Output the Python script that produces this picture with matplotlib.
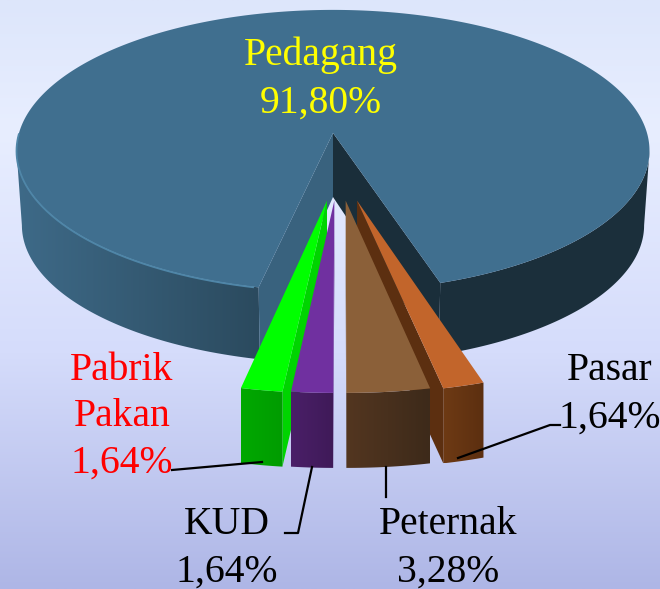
import numpy as np
import matplotlib
matplotlib.use("Agg")
import matplotlib.pyplot as plt
from matplotlib.colors import LinearSegmentedColormap
from matplotlib.patches import Polygon

# nilai
categories = ["Pabrik\nPakan", "KUD", "Peternak", "Pasar", "Pedagang"]
values = [1.64, 1.64, 3.28, 1.64, 91.80]
value_labels = ["1,64%", "1,64%", "3,28%", "1,64%", "91,80%"]

# warna: atas, dinding samping, sisi depan (kiri ke kanan)
top_colors = ["#00ff00", "#7030a0", "#8b6039", "#c2652b"]
wall_colors = ["#00d400", "#5c2a85", "#6b4a2c", "#5c2f10"]
front_colors = [("#00a800", "#009c00"), ("#4a1f68", "#3f1a58"), ("#533620", "#3d2a1a"), ("#6e3a14", "#5c2f10")]
# geser tiap irisan keluar dari pusat
offset_u = [-0.018, 0.004, 0.038, 0.072]
offset_v = 0.46
SLICE_LEN = 1.06

cx, cy = 333.0, 133.0
R, S, P = 314.0, 138.5, 0.125
DEPTH = 75.0


def project(u, v):
    d = 1 - P * np.asarray(v)
    return cx + R * np.asarray(u) / d, cy + S * np.asarray(v) / d


def rim(a0, a1, du=0.0, dv=0.0, length=1.0, n=120):
    a = np.radians(np.linspace(a0, a1, n))
    return project(length * np.sin(a) + du, length * np.cos(a) + dv)


def grad_fill(ax, xs, ys, c0, c1, z):
    # gradasi mendatar yang dipotong mengikuti poligon
    cmap = LinearSegmentedColormap.from_list("g", [c0, c1])
    im = ax.imshow(np.linspace(0, 1, 256).reshape(1, -1), cmap=cmap, aspect="auto", zorder=z,
                   extent=[min(xs), max(xs), max(ys), min(ys)], interpolation="bilinear")
    patch = Polygon(np.c_[xs, ys], closed=True, transform=ax.transData, fc="none", ec="none")
    ax.add_patch(patch)
    im.set_clip_path(patch)


fig = plt.figure(figsize=(6.6, 5.89), dpi=100)
ax = fig.add_axes([0, 0, 1, 1])
ax.axis("off")

# latar gradasi
bg = LinearSegmentedColormap.from_list("bg", [(0, "#dde6fb"), (0.22, "#e8eeff"), (0.6, "#d5dcfb"), (1, "#aeb6e6")])
ax.imshow(np.linspace(0, 1, 256).reshape(-1, 1), cmap=bg, extent=[0, 660, 589, 0], aspect="auto", zorder=0)

# sudut tiap irisan dari nilai
start = -12.0
angles = [start]
for val in values:
    angles.append(angles[-1] + val / sum(values) * 360)

# Pedagang: irisan besar
a_start, a_end = angles[4], angles[5]
main_x, main_y = rim(a_start, a_end, n=720)
a_deg = np.linspace(a_start, a_end, 720) % 360
low_x = cx + (main_x - cx) * 0.983
low_y = main_y + DEPTH - 3 * np.clip((main_y - cy) / 150, 0, 1)

# sisi luar dimulai dari titik terlebar elips
left = (a_deg >= 277) & (a_deg <= 360)
right = a_deg <= 83
grad_fill(ax, np.r_[main_x[left], low_x[left][::-1]], np.r_[main_y[left], low_y[left][::-1]],
          "#3e6a88", "#2b4a5e", 2)
ax.fill(np.r_[main_x[right], low_x[right][::-1]], np.r_[main_y[right], low_y[right][::-1]],
        color="#1b2f3b", lw=0, zorder=2)

# dinding dalam
APEX_DEPTH = 64
ax.fill([cx, main_x[-1], low_x[-1], cx], [cy, main_y[-1], low_y[-1], cy + APEX_DEPTH], color="#39627e", lw=0, zorder=3)
ax.fill([cx, main_x[0], low_x[0], cx], [cy, main_y[0], low_y[0], cy + APEX_DEPTH], color="#1a2e3a", lw=0, zorder=3)
ax.fill(np.r_[cx, main_x], np.r_[cy, main_y], color="#406f8f", lw=0, zorder=4)
# garis terang di tepi kiri
mask = (a_deg > 270) & (a_deg < 347.5)
ax.plot(main_x[mask], main_y[mask] + 0.5, color="#4f86a8", lw=1.3, zorder=5)

# empat irisan; Peternak di depan dinding Pasar
draw_z = [10, 11, 13, 12]
for i in range(4):
    a0, a1 = angles[i], angles[i + 1]
    du = offset_u[i]
    px, py = project(du, offset_v)
    ox, oy = rim(a0, a1, du, offset_v, SLICE_LEN, n=40)
    z = draw_z[i]
    # dinding sisi kanan untuk irisan kiri, sisi kiri untuk irisan kanan
    k = -1 if i < 2 else 0
    ax.fill([px, ox[k], ox[k], px], [py, oy[k], oy[k] + DEPTH, py + DEPTH],
            color=wall_colors[i], lw=0, zorder=z)
    grad_fill(ax, np.r_[ox, ox[::-1]], np.r_[oy, oy[::-1] + DEPTH],
              front_colors[i][0], front_colors[i][1], z)
    ax.fill(np.r_[px, ox], np.r_[py, oy], color=top_colors[i], lw=0, zorder=z)

# garis penunjuk
ax.plot([172, 262], [470, 462], color="black", lw=1.6, zorder=20)
ax.plot([312, 298, 285], [467, 533, 533], color="black", lw=1.6, zorder=20)
ax.plot([386, 386], [467, 497], color="black", lw=1.6, zorder=20)
ax.plot([458, 550, 560], [458, 425, 425], color="black", lw=1.6, zorder=20)

# label
font = dict(family=["Liberation Serif", "DejaVu Serif"], fontsize=28.5, ha="center", va="center", zorder=25)
ax.text(321, 55, categories[4], color="#ffff00", **font)
ax.text(321, 103, value_labels[4], color="#ffff00", **font)
ax.text(122, 370, categories[0].split("\n")[0], color="#ff0000", **font)
ax.text(122, 417, categories[0].split("\n")[1], color="#ff0000", **font)
ax.text(122, 463, value_labels[0], color="#ff0000", **font)
ax.text(227, 524, categories[1], color="black", **font)
ax.text(227, 572, value_labels[1], color="black", **font)
ax.text(448, 524, categories[2], color="black", **font)
ax.text(448, 572, value_labels[2], color="black", **font)
ax.text(610, 370, categories[3], color="black", **font)
ax.text(610, 418, value_labels[3], color="black", **font)

ax.set_xlim(0, 660)
ax.set_ylim(589, 0)
fig.savefig("out.png", dpi=100)
